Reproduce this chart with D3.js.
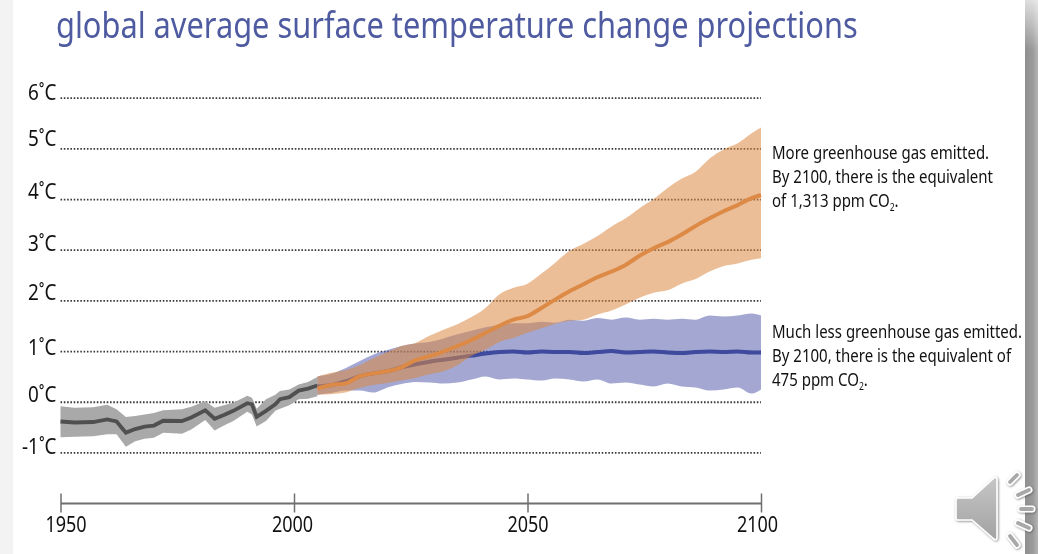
<!DOCTYPE html>
<html>
<head>
<meta charset="utf-8">
<script src="https://cdn.jsdelivr.net/npm/d3@7"></script>
<style>
  html, body { margin: 0; padding: 0; background: #fff; }
  svg { display: block; font-family: "Noto Sans", sans-serif; filter: blur(.4px); }
</style>
</head>
<body>
<div id="chart"></div>
<script>
// values
const titleText = "global average surface temperature change projections";
const tempTicks = [6, 5, 4, 3, 2, 1, 0, -1];
const yearTicks = [1950, 2000, 2050, 2100];

const histYears = [1950,1953,1957,1960,1962,1964,1966,1968,1970,1972,1976,1978,1981,1983,1985,1987,1990,1991,1992,1994,1996,1997,1999,2001,2003,2005];
const histMean = [-.39,-.41,-.40,-.35,-.39,-.61,-.54,-.49,-.47,-.375,-.38,-.31,-.17,-.335,-.26,-.18,-.03,-.05,-.30,-.18,-.05,.05,.09,.22,.26,.32];
const histHigh = [-.09,-.12,-.11,-.06,-.15,-.30,-.28,-.25,-.22,-.17,-.15,-.10,.01,-.12,-.07,-.02,.12,.08,-.14,.05,.14,.21,.24,.34,.39,.49];
const histLow = [-.70,-.69,-.68,-.64,-.64,-.89,-.78,-.73,-.71,-.61,-.63,-.55,-.36,-.57,-.47,-.38,-.20,-.25,-.49,-.38,-.18,-.14,-.07,.05,.06,.11];

const projYears = [2005,2008,2011,2014,2017,2020,2023,2026,2029,2032,2035,2038,2041,2044,2047,2050,2053,2056,2059,2062,2065,2068,2071,2074,2077,2080,2083,2086,2089,2092,2095,2098,2100];
const orangeMean = [.26,.33,.36,.50,.56,.60,.68,.82,.90,.99,1.10,1.22,1.36,1.50,1.62,1.69,1.85,2.02,2.18,2.32,2.46,2.57,2.70,2.88,3.03,3.15,3.30,3.47,3.62,3.76,3.88,4.02,4.08];
const orangeHigh = [.50,.57,.62,.72,.86,.98,1.10,1.16,1.30,1.42,1.53,1.67,1.85,2.12,2.25,2.33,2.53,2.75,2.98,3.12,3.27,3.46,3.62,3.82,4.00,4.22,4.40,4.54,4.80,4.98,5.10,5.30,5.41];
const orangeLow = [.14,.15,.18,.27,.33,.37,.42,.47,.54,.60,.72,.90,1.03,1.18,1.26,1.36,1.45,1.54,1.60,1.62,1.72,1.80,1.92,2.05,2.15,2.20,2.33,2.42,2.57,2.68,2.73,2.80,2.83];
const blueMean = [.30,.33,.40,.50,.56,.60,.68,.74,.79,.83,.87,.91,.95,.98,.99,.97,.99,.98,.98,.96,.98,1.00,.97,.98,.99,.97,.96,.98,.99,.98,.99,.97,.97];
const blueHigh = [.50,.55,.66,.80,.93,1.02,1.10,1.15,1.18,1.25,1.33,1.40,1.47,1.52,1.55,1.55,1.58,1.56,1.62,1.60,1.65,1.62,1.66,1.62,1.64,1.62,1.64,1.62,1.70,1.68,1.70,1.74,1.70];
const blueLow = [.14,.17,.22,.22,.18,.28,.35,.39,.38,.36,.38,.44,.50,.44,.46,.44,.42,.46,.44,.40,.44,.36,.38,.34,.30,.36,.30,.28,.22,.24,.28,.16,.24];

const svgWidth = 1038, svgHeight = 554;

const svg = d3.select("#chart").append("svg")
  .attr("width", svgWidth)
  .attr("height", svgHeight);

// slide edges
const defs = svg.append("defs");
const rightGrad = defs.append("linearGradient").attr("id", "rightEdge")
  .attr("x1", 0).attr("x2", 1).attr("y1", 0).attr("y2", 0);
rightGrad.append("stop").attr("offset", "0%").attr("stop-color", "#8f8f8f");
rightGrad.append("stop").attr("offset", "60%").attr("stop-color", "#9b9b9b");
rightGrad.append("stop").attr("offset", "100%").attr("stop-color", "#b4b4b4");
const fadeGrad = defs.append("linearGradient").attr("id", "topFade")
  .attr("x1", 0).attr("x2", 0).attr("y1", 0).attr("y2", 1);
fadeGrad.append("stop").attr("offset", "0%").attr("stop-color", "#fff").attr("stop-opacity", .7);
fadeGrad.append("stop").attr("offset", "100%").attr("stop-color", "#fff").attr("stop-opacity", 0);
const speakerGrad = defs.append("linearGradient").attr("id", "speaker")
  .attr("x1", 0).attr("x2", 0).attr("y1", 0).attr("y2", 1);
speakerGrad.append("stop").attr("offset", "0%").attr("stop-color", "#c6c6c6");
speakerGrad.append("stop").attr("offset", "100%").attr("stop-color", "#a2a2a2");
defs.append("filter").attr("id", "iconShadow")
  .attr("x", "-20%").attr("y", "-20%").attr("width", "140%").attr("height", "140%")
  .append("feDropShadow")
  .attr("dx", .8).attr("dy", .8).attr("stdDeviation", 1)
  .attr("flood-color", "#444").attr("flood-opacity", .65);

svg.append("rect").attr("width", 13).attr("height", svgHeight).attr("fill", "#f3f3f3");
svg.append("rect").attr("x", 1025).attr("width", 13).attr("height", svgHeight).attr("fill", "url(#rightEdge)");
svg.append("rect").attr("x", 1025).attr("width", 13).attr("height", 50).attr("fill", "url(#topFade)");

// squeeze Noto down to the narrower face of the original
const squeeze = (sel, px, py, k) => sel.attr("transform", `translate(${px},${py}) scale(${k},1)`);

const title = svg.append("text")
  .attr("font-size", 37)
  .attr("fill", "#4f5ba1")
  .text(titleText);
squeeze(title, 56, 38, 802 / title.node().getComputedTextLength());

// scales
const x = d3.scaleLinear().domain([1950, 2100]).range([60.5, 761]);
const y = d3.scaleLinear().domain([-1, 6]).range([452.4, 97.7]);

// y axis: dotted lines
const yAxis = svg.append("g")
  .attr("transform", `translate(${x(1950)},0)`)
  .call(d3.axisLeft(y).tickValues(tempTicks).tickSize(0).tickFormat(d => `${d}˚C`));
yAxis.select(".domain").remove();
yAxis.selectAll("line")
  .attr("x2", x(2100) - x(1950))
  .attr("stroke", "#3c3c3c")
  .attr("stroke-width", 1.8)
  .attr("stroke-dasharray", "1.6 1.7");
const labelNudge = {6: 1.5, 5: -2.5, 4: -1, 3: 1, 2: -.5, 1: 3.5, 0: 0, "-1": .8};
yAxis.selectAll("text")
  .attr("x", 0).attr("y", 0).attr("dy", 0)
  .attr("font-family", '"Noto Sans", sans-serif')
  .attr("font-size", 22)
  .attr("fill", "#111")
  .attr("transform", d => `translate(-4,${labelNudge[d]}) scale(.86,1)`);

// x axis
const xAxis = svg.append("g")
  .attr("transform", "translate(0,503)")
  .call(d3.axisBottom(x).tickValues(yearTicks).tickFormat(d3.format("d")).tickSize(9).tickSizeOuter(0));
xAxis.select(".domain").attr("stroke", "#6f6f6f").attr("stroke-width", 1.8);
xAxis.selectAll("line").attr("y1", -9.5).attr("y2", 9.5).attr("stroke", "#6f6f6f").attr("stroke-width", 1.5);
const yearNudge = {1950: 5, 2000: -2, 2050: 0, 2100: -4};
xAxis.selectAll("text")
  .attr("x", 0).attr("y", 0).attr("dy", 0)
  .attr("font-family", '"Noto Sans", sans-serif')
  .attr("font-size", 22)
  .attr("fill", "#111")
  .attr("transform", d => `translate(${yearNudge[d]},29) scale(.82,1)`);

// bands and mean lines
const area = (years, low, high, curve) => d3.area()
  .x((d, i) => x(years[i]))
  .y0((d, i) => y(low[i]))
  .y1((d, i) => y(high[i]))
  .curve(curve)(years);
const line = (years, vals, curve) => d3.line()
  .x((d, i) => x(years[i]))
  .y((d, i) => y(vals[i]))
  .curve(curve)(years);

const marks = svg.append("g");
marks.append("path").attr("d", area(histYears, histLow, histHigh, d3.curveLinear)).attr("fill", "#a9a9a9");
marks.append("path").attr("d", line(histYears, histMean, d3.curveLinear))
  .attr("fill", "none").attr("stroke", "#505050").attr("stroke-width", 3.8);

marks.append("path").attr("d", area(projYears, blueLow, blueHigh, d3.curveMonotoneX))
  .attr("fill", "#4e57a6").attr("opacity", .52);
marks.append("path").attr("d", line(projYears, blueMean, d3.curveMonotoneX))
  .attr("fill", "none").attr("stroke", "#3d4a9e").attr("stroke-width", 4);
marks.append("path").attr("d", area(projYears, orangeLow, orangeHigh, d3.curveMonotoneX))
  .attr("fill", "#da8843").attr("opacity", .55);
marks.append("path").attr("d", line(projYears, orangeMean, d3.curveMonotoneX))
  .attr("fill", "none").attr("stroke", "#dc8a45").attr("stroke-width", 4);

// side notes
function note(top, lines) {
  lines.forEach((l, i) => {
    const t = svg.append("text")
      .attr("font-size", 17.5)
      .attr("fill", "#111");
    t.append("tspan").text(l[0]);
    if (l[1]) {
      t.append("tspan").attr("font-size", 10).attr("dy", 4).text("2");
      t.append("tspan").attr("dy", -4).text(".");
    }
    squeeze(t, 772, top + i * 23.8, .858);
  });
}
note(159, [["More greenhouse gas emitted."], ["By 2100, there is the equivalent"], ["of 1,313 ppm CO", true]]);
note(338, [["Much less greenhouse gas emitted."], ["By 2100, there is the equivalent of"], ["475 ppm CO", true]]);

// speaker icon of the slide
const icon = svg.append("g").attr("filter", "url(#iconShadow)");
icon.append("path")
  .attr("d", "M958 498H972L994 478Q997 476 997 480V537Q997 541 994 539L972 520H958Q956 520 956 518V500Q956 498 958 498Z")
  .attr("fill", "url(#speaker)")
  .attr("stroke", "#fff")
  .attr("stroke-width", 1.6);
[[1010, 482, 1017, 475], [1018, 495, 1029, 490], [1021, 509, 1032, 509], [1018, 523, 1029, 528], [1010, 536, 1017, 545]].forEach(r => {
  icon.append("line").attr("x1", r[0]).attr("y1", r[1]).attr("x2", r[2]).attr("y2", r[3])
    .attr("stroke", "#fff").attr("stroke-width", 7).attr("stroke-linecap", "round");
  icon.append("line").attr("x1", r[0]).attr("y1", r[1]).attr("x2", r[2]).attr("y2", r[3])
    .attr("stroke", "#a8a8a8").attr("stroke-width", 3.8).attr("stroke-linecap", "round");
});
</script>
</body>
</html>
